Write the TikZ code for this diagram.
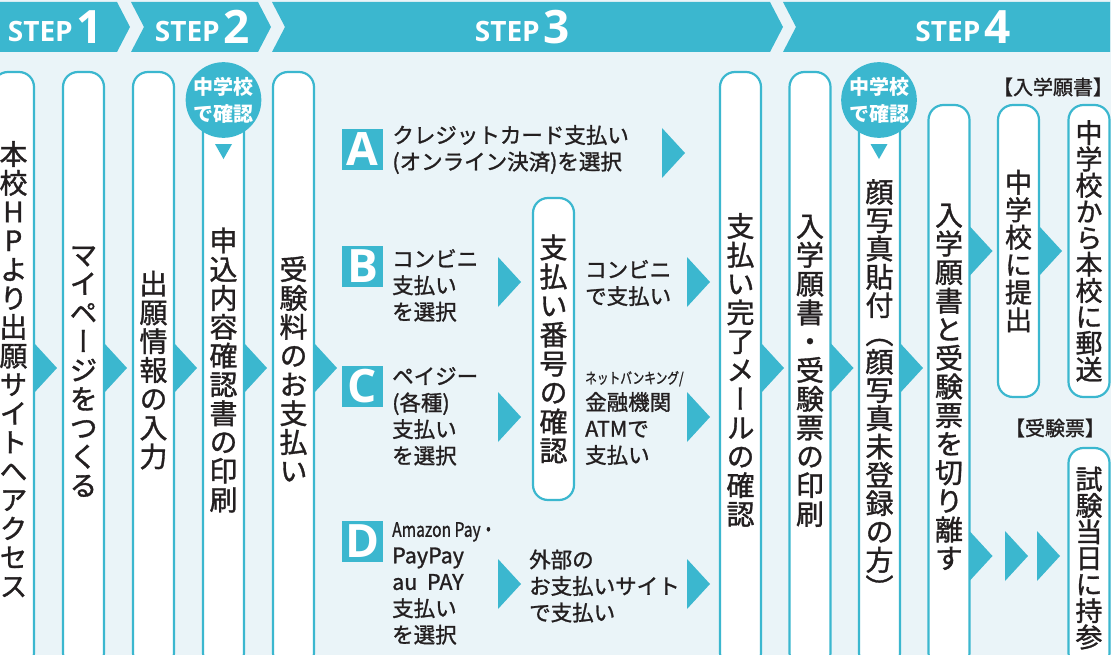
\documentclass[tikz,border=0pt]{standalone}
\usepackage{fontspec}
\usetikzlibrary{positioning}
\newfontfamily\jp[RawFeature={embolden=1.2}]{Noto Sans CJK JP}
\newfontfamily\jpplain{Noto Sans CJK JP}
\newfontfamily\tatefont[RawFeature={+vert;embolden=1.2}]{Noto Sans CJK JP}
\newfontfamily\latinbold{Open Sans}
\definecolor{stepblue}{HTML}{3BB7CF}
\definecolor{paleblue}{HTML}{EAF4F8}
\definecolor{ink}{HTML}{231F20}

% vertical text: one character per cell
\newlength\tatepitch
\newcommand\tate[2][28.8pt]{\setlength\tatepitch{#1}\vbox{\offinterlineskip\tatechar#2\relax}}
\def\tatechar#1{\ifx\relax#1\else\hbox to 1.2em{\hss\smash{#1}\hss\vrule height \dimexpr0.5\tatepitch+0.38em\relax depth \dimexpr0.5\tatepitch-0.38em\relax width 0pt}\expandafter\tatechar\fi}

\begin{document}
\begin{tikzpicture}[x=1pt, y=-1pt,
		pillar/.style={
			draw=stepblue,
			line width=2.2pt,
			fill=white,
			rounded corners=15pt,
			minimum width=41pt,
			inner sep=0pt,
			outer sep=0pt,
			text=ink,
			font=\tatefont\fontsize{28}{28}\selectfont,
		},
		tatetext/.style={inner sep=0pt, text=ink, font=\tatefont\fontsize{28}{28}\selectfont},
		htext/.style={inner sep=0pt, align=left, text=ink, font=\jp\fontsize{21.5}{26.5}\selectfont},
		letterbox/.style={fill=stepblue, minimum size=41pt, inner sep=0pt, text=white, font=\latinbold\bfseries\fontsize{46}{46}\selectfont},
		maru/.style={circle, fill=stepblue, minimum size=72pt, inner sep=0pt, align=center, text=white, font=\jpplain\bfseries\fontsize{20}{27}\selectfont},
		steplabel/.style={anchor=base, inner sep=0pt, text=white, font=\latinbold\bfseries\fontsize{28}{28}\selectfont},
		bracketlabel/.style={inner sep=0pt, text=ink, font=\jp\fontsize{20}{20}\selectfont},
		arrowtri/.pic={\fill[stepblue] (0,-25) -- (23,0) -- (0,25) -- cycle;},
	]

\useasboundingbox (0,0) rectangle (1111,655);
\clip (0,0) rectangle (1111,655);
\fill[paleblue] (0,0) rectangle (1111,655);

% step banner
\fill[stepblue] (0,2) -- (117,2) -- (130,27) -- (117,52) -- (0,52) -- cycle;
\fill[stepblue] (131,2) -- (258,2) -- (271,27) -- (258,52) -- (131,52) -- (144,27) -- cycle;
\fill[stepblue] (272,2) -- (770,2) -- (783,27) -- (770,52) -- (272,52) -- (285,27) -- cycle;
\fill[stepblue] (783,2) -- (1110,2) -- (1110,52) -- (783,52) -- (796,27) -- cycle;
\draw
(55.5,44) node[steplabel] (s1) {\raisebox{2pt}{STEP}\hspace{4pt}{\fontsize{46}{46}\selectfont 1}}
(202.5,44) node[steplabel] (s2) {\raisebox{2pt}{STEP}\hspace{4pt}{\fontsize{46}{46}\selectfont 2}}
(522.5,44) node[steplabel] (s3) {\raisebox{2pt}{STEP}\hspace{4pt}{\fontsize{46}{46}\selectfont 3}}
(963,44) node[steplabel] (s4) {\raisebox{2pt}{STEP}\hspace{4pt}{\fontsize{46}{46}\selectfont 4}}
;

% steps 1 and 2
\draw
(13.5,370) node[pillar, minimum height=596pt] (p1) {\tate{本校HPより出願サイトへアクセス}}
(83.5,370) node[pillar, minimum height=596pt] (p2) {\tate{マイページをつくる}}
(153.5,370) node[pillar, minimum height=596pt] (p3) {\tate{出願情報の入力}}
(223.5,370) node[pillar, minimum height=596pt] (p4) {\tate{申込内容確認書の印刷}}
(293.5,370) node[pillar, minimum height=596pt] (p5) {\tate{受験料のお支払い}}
(223.5,100) node[maru] (maru1) {中学校\\で確認}
;
\fill[stepblue] (maru1.south) ++(-8.5,6) -- ++(17,0) -- ++(-8.5,15) -- cycle;

% step 3
\draw
(362.5,149.5) node[letterbox] (la) {A}
(362.5,266) node[letterbox] (lb) {B}
(362.5,386) node[letterbox] (lc) {C}
(362.5,541) node[letterbox] (ld) {D}
(392,249) node[htext, anchor=north west] (tb) {コンビニ\\支払い\\を選択}
(392,367) node[htext, anchor=north west] (tc) {ペイジー\\(各種)\\支払い\\を選択}
(392,522) node[htext, anchor=north west] (td) {{\fontsize{20}{20}\selectfont\scalebox{0.78}[1]{Amazon Pay・}}\\PayPay\\au\hspace{0.45em}PAY\\支払い\\を選択}
(553.5,349) node[pillar, minimum height=302pt] (pm) {\tate[29pt]{支払い番号の確認}}
(585,283) node[htext, anchor=west] (tb2) {コンビニ\\で支払い}
(585,418) node[htext, anchor=west] (tc2) {{\fontsize{15}{15}\selectfont\scalebox{0.78}[1]{ネットバンキング/}}\\金融機関\\ATMで\\支払い}
(529,586) node[htext, anchor=west] (td2) {外部の\\お支払いサイト\\で支払い}
(740.5,370) node[pillar, minimum height=596pt] (p6) {\tate{支払い完了メールの確認}}
;
\node[htext, right=9pt of la] (ta) {クレジットカード支払い\\(オンライン決済)を選択};

% step 4
\draw
(810,370) node[pillar, minimum height=596pt] (p7) {\tate{入学願書・受験票の印刷}}
(879.5,370) node[pillar, minimum height=596pt] (p8) {}
(879.5,390) node[tatetext] (t8) {\tate[28.3pt]{顔写真貼付（顔写真未登録の方）}}
(879,100) node[maru, minimum size=69pt] (maru2) {中学校\\で確認}
(949,386.5) node[pillar, minimum height=563pt] (p9) {\tate[28.6pt]{入学願書と受験票を切り離す}}
(1018.5,251) node[pillar, minimum height=292pt, font=\tatefont\fontsize{27}{27}\selectfont] (p10) {\tate[27.5pt]{中学校に提出}}
(1089,251) node[pillar, minimum height=292pt, font=\tatefont\fontsize{27}{27}\selectfont] (p11) {\tate[26.3pt]{中学校から本校に郵送}}
(1089,558) node[pillar, minimum height=220pt, font=\tatefont\fontsize{27}{27}\selectfont] (p12) {\tate[26.3pt]{試験当日に持参}}
(1053,87) node[bracketlabel] (lab1) {【入学願書】}
(1055,428) node[bracketlabel] (lab2) {【受験票】}
;
\fill[stepblue] (maru2.south) ++(-8.5,6) -- ++(17,0) -- ++(-8.5,15) -- cycle;

% arrows
\foreach \p in {p1,p2,p3,p4,p5,p6,p7,p8}
	\pic at (\p.east |- 0,368) {arrowtri};
\pic at (662,153) {arrowtri};
\foreach \y in {282,417,584}{
	\pic at (498,\y) {arrowtri};
	\pic at (687,\y) {arrowtri};
}
\pic at (p9.east |- 0,251) {arrowtri};
\pic at (p10.east |- 0,251) {arrowtri};
\pic at (p9.east |- 0,556) {arrowtri};
\pic at (1005,556) {arrowtri};
\pic at (1037,556) {arrowtri};

\end{tikzpicture}
\end{document}
